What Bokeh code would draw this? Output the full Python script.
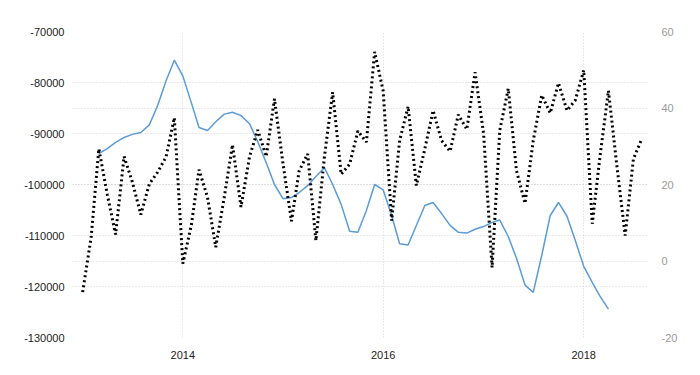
import pandas as pd
from datetime import datetime
from bokeh.plotting import figure
from bokeh.models import (Range1d, LinearAxis, FixedTicker, Grid, DatetimeTickFormatter,
                          NumeralTickFormatter)
from bokeh.embed import file_html
from bokeh.resources import INLINE

# ---- data ----
black_start = "2013-01-01"
black_values = [
    -121100, -110300, -93000, -102000, -109800, -94500, -99500, -105900, -99900, -97600,
    -94600, -86900, -115500, -108000, -97100, -102500, -112300, -102500, -92200, -104400,
    -94600, -89300, -94500, -83200, -95900, -107200, -97300, -94000, -111000, -94600,
    -81900, -98000, -96000, -89500, -91700, -74000, -81600, -107100, -91400, -84700,
    -100200, -93000, -85500, -91400, -93500, -86300, -89200, -78000, -90000, -116300,
    -89400, -81200, -97300, -103700, -91400, -82500, -86000, -80100, -85500, -83500,
    -77600, -107700, -94600, -81600, -96000, -110000, -95000, -91000,
]
blue_start = "2013-03-01"
blue_values = [
    28.1, 29.4, 31.0, 32.3, 33.1, 33.6, 35.6, 40.6, 47.1, 52.5,
    48.4, 41.4, 34.9, 34.1, 36.4, 38.4, 38.9, 38.0, 35.9, 31.2,
    25.7, 20.0, 16.3, 16.6, 17.9, 19.7, 22.1, 24.4, 20.0, 14.8,
    7.8, 7.5, 13.2, 20.0, 18.6, 11.9, 4.5, 4.2, 9.3, 14.5,
    15.3, 12.4, 9.3, 7.5, 7.3, 8.3, 9.0, 10.1, 10.7, 6.4,
    0.7, -6.3, -8.2, 1.5, 11.9, 15.3, 11.7, 5.4, -1.4, -5.6,
    -9.2, -12.6,
]
left_ticks = [-130000, -120000, -110000, -100000, -90000, -80000, -70000]
right_ticks = [-20, 0, 20, 40, 60]
year_ticks = ["2014-01-01", "2016-01-01", "2018-01-01"]

black_dates = pd.date_range(black_start, periods=len(black_values), freq="MS")
blue_dates = pd.date_range(blue_start, periods=len(blue_values), freq="MS")

FONT = "Liberation Sans"
GRID_COLOR = "#d4d4d4"

p = figure(width=692, height=367, x_axis_type="datetime",
           x_range=Range1d(datetime(2012, 11, 25), datetime(2018, 8, 25)),
           y_range=Range1d(left_ticks[0], left_ticks[-1]),
           output_backend="svg", toolbar_location=None,
           min_border_left=72, min_border_right=44, min_border_top=31, min_border_bottom=30)
p.outline_line_color = None
p.background_fill_color = "white"
p.border_fill_color = "white"
p.extra_y_ranges = {"right": Range1d(right_ticks[0], right_ticks[-1])}

# left axis
yax = p.yaxis[0]
yax.ticker = FixedTicker(ticks=left_ticks)
yax.formatter = NumeralTickFormatter(format="0")
yax.axis_line_color = None
yax.major_tick_line_color = None
yax.minor_tick_line_color = None
yax.major_label_text_font = FONT
yax.major_label_text_font_size = "11px"
yax.major_label_text_color = "#222222"
yax.major_label_standoff = 2

# right axis
rax = LinearAxis(y_range_name="right", ticker=FixedTicker(ticks=right_ticks))
rax.formatter = NumeralTickFormatter(format="0")
rax.axis_line_color = None
rax.major_tick_line_color = None
rax.minor_tick_line_color = None
rax.major_label_text_font = FONT
rax.major_label_text_font_size = "11px"
rax.major_label_text_color = "#9a9a9a"
rax.major_label_standoff = 7
p.add_layout(rax, "right")

# x axis
xax = p.xaxis[0]
xax.ticker = FixedTicker(ticks=[pd.Timestamp(t).value / 1e6 for t in year_ticks])
xax.formatter = DatetimeTickFormatter(years="%Y", months="%Y", days="%Y", hours="%Y")
xax.axis_line_color = None
xax.major_tick_line_color = None
xax.minor_tick_line_color = None
xax.major_label_text_font = FONT
xax.major_label_text_font_size = "11px"
xax.major_label_text_color = "#222222"
xax.major_label_standoff = 7

# grids
p.xgrid.grid_line_color = GRID_COLOR
p.xgrid.grid_line_dash = "1 2"
p.ygrid.grid_line_color = GRID_COLOR
p.ygrid.grid_line_dash = "1 2"
rgrid = Grid(dimension=1, ticker=FixedTicker(ticks=right_ticks), y_range_name="right",
             grid_line_color=GRID_COLOR, grid_line_dash="1 2")
p.add_layout(rgrid)

# series
p.line(blue_dates, blue_values, y_range_name="right", line_color="#5b9bd8", line_width=1.5)
p.line(black_dates, black_values, line_color="black", line_width=3, line_dash="2 3")

open("out.html", "w").write(file_html(p, INLINE))
